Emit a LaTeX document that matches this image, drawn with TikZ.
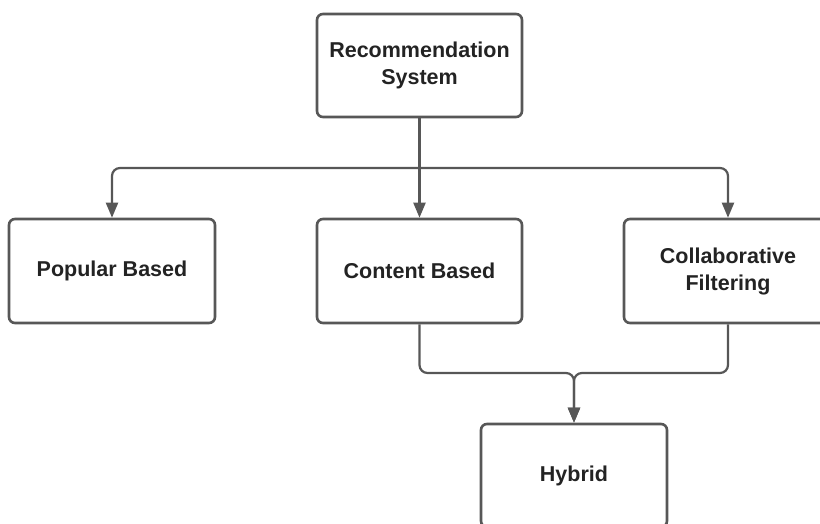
\documentclass[tikz,border=0pt]{standalone}
\usepackage{fontspec}
\setsansfont{Liberation Sans}
\usetikzlibrary{arrows.meta,calc}

\definecolor{linegray}{HTML}{575757}
\definecolor{textgray}{HTML}{232323}

\begin{document}
\begin{tikzpicture}[x=1pt,y=-1pt,
            box/.style={draw=linegray, line width=2.6pt, rounded corners=6pt, fill=white,
            align=center, text=textgray, font=\sffamily\bfseries\fontsize{21.5}{27}\selectfont,
            minimum width=205pt, minimum height=103pt, inner sep=0pt},
            link/.style={draw=linegray, line width=2.2pt, rounded corners=8pt,
            -{Triangle[width=12pt,length=15pt]}}]
            \useasboundingbox (0,0) rectangle (820,524);
            \clip (0,0) rectangle (820,524);

            \node[box] (rs) at (419.5,65.5) {Recommendation\\System};
            \node[box, minimum width=206pt, minimum height=104pt] (pb) at (112,271) {Popular Based};
            \node[box, minimum height=104pt] (cb) at (419.5,271) {Content Based};
            \node[box, minimum width=208pt, minimum height=104pt] (cf) at (728,271) {Collaborative\\Filtering};
            \node[box, minimum width=186pt] (hy) at (574,475.5) {Hybrid};

            \coordinate (split) at (419.5,168);
            \coordinate (merge) at (574,373);

            % top level split
            \draw[link] (rs.south) -- (cb.north);
            \draw[link] (split) -| (pb.north);
            \draw[link] (split) -| (cf.north);

            % merge into hybrid
            \draw[link] (cb.south) |- (merge) -- (hy.north);
            \draw[link] (cf.south) |- (merge) -- (hy.north);
        \end{tikzpicture}
\end{document}
